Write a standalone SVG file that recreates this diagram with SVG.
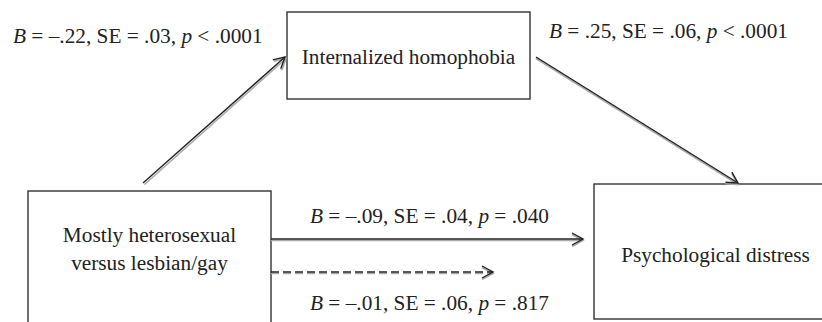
<svg xmlns="http://www.w3.org/2000/svg" width="822" height="322" viewBox="0 0 822 322">
<style>
.box{fill:#fff;stroke:#333;stroke-width:1.4}
.t{font-family:"Liberation Serif","Times New Roman",serif;font-size:21.3px;fill:#222}
.i{font-style:italic}
.ln{fill:none;stroke:#222;stroke-width:1.4}
.sh{fill:none;stroke:#aaa;stroke-width:1.6}
.dash{stroke-dasharray:8 4}
</style>
<defs>
<marker id="ah" markerUnits="userSpaceOnUse" markerWidth="16" markerHeight="16" viewBox="-13 -8 16 16" refX="0" refY="0" orient="auto">
<polyline points="-11,-6 0,0 -11,6" fill="none" stroke="#222" stroke-width="1.4"/>
</marker>
<marker id="ahs" markerUnits="userSpaceOnUse" markerWidth="16" markerHeight="16" viewBox="-13 -8 16 16" refX="0" refY="0" orient="auto">
<polyline points="-11,-6 0,0 -11,6" fill="none" stroke="#aaa" stroke-width="1.6"/>
</marker>
</defs>
<rect width="822" height="322" fill="#fff"/>
<g id="node-homophobia">
<rect class="box" x="287" y="12" width="243" height="87"/>
<text class="t" x="408.5" y="64" text-anchor="middle">Internalized homophobia</text>
</g>
<g id="node-orientation">
<rect class="box" x="28" y="191" width="243" height="140"/>
<text class="t" x="149.5" y="242" text-anchor="middle">Mostly heterosexual</text>
<text class="t" x="149.5" y="270" text-anchor="middle">versus lesbian/gay</text>
</g>
<g id="node-distress">
<rect class="box" x="594" y="184" width="243" height="135"/>
<text class="t" x="715.5" y="262" text-anchor="middle">Psychological distress</text>
</g>
<g id="connectors">
<line class="sh" x1="144.5" y1="184.5" x2="286" y2="58.5" marker-end="url(#ahs)"/>
<line class="ln" x1="143" y1="183" x2="285" y2="57" marker-end="url(#ah)"/>
<line class="sh" x1="536" y1="58.5" x2="738" y2="184.5" marker-end="url(#ahs)"/>
<line class="ln" x1="536" y1="57" x2="738" y2="183" marker-end="url(#ah)"/>
<line class="sh" x1="271" y1="240.5" x2="583" y2="240.5" marker-end="url(#ahs)"/>
<line class="ln" x1="271" y1="239" x2="583" y2="239" marker-end="url(#ah)"/>
<line class="sh dash" x1="271" y1="273.5" x2="493" y2="273.5" marker-end="url(#ahs)"/>
<line class="ln dash" x1="271" y1="272" x2="493" y2="272" marker-end="url(#ah)"/>
</g>
<g id="labels">
<text class="t" x="13" y="43"><tspan class="i">B</tspan> = –.22, SE = .03, <tspan class="i">p</tspan> &lt; .0001</text>
<text class="t" x="549" y="38"><tspan class="i">B</tspan> = .25, SE = .06, <tspan class="i">p</tspan> &lt; .0001</text>
<text class="t" x="310" y="223"><tspan class="i">B</tspan> = –.09, SE = .04, <tspan class="i">p</tspan> = .040</text>
<text class="t" x="310" y="310"><tspan class="i">B</tspan> = –.01, SE = .06, <tspan class="i">p</tspan> = .817</text>
</g>
</svg>
